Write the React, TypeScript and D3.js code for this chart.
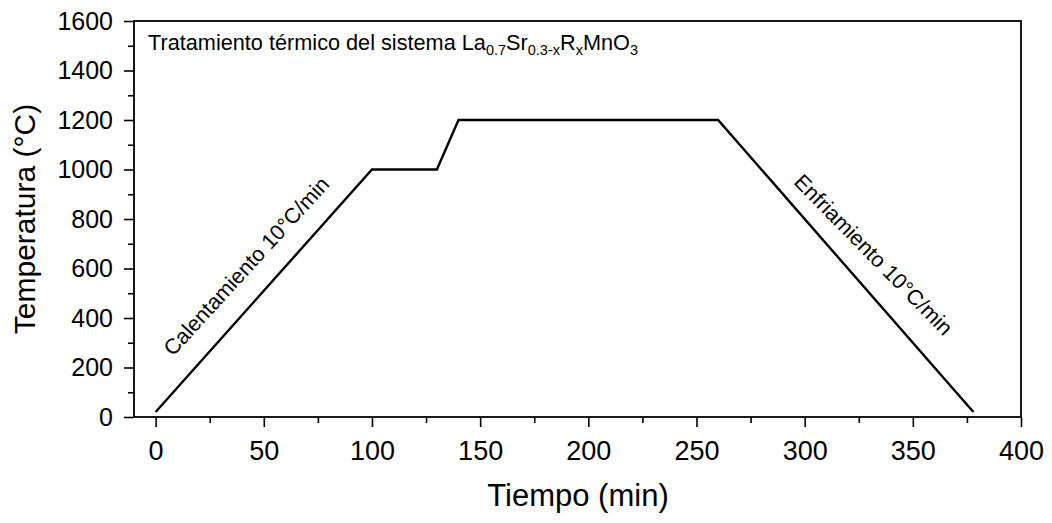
import * as React from "react";
import * as d3 from "d3";
import { useEffect, useRef } from "react";

// temperatura vs tiempo
const tiempo = [0, 100, 130, 140, 260, 378];
const temperatura = [20, 1000, 1000, 1200, 1200, 20];

const xTicks = [0, 50, 100, 150, 200, 250, 300, 350, 400];
const yTicks = [0, 200, 400, 600, 800, 1000, 1200, 1400, 1600];

const W = 1052;
const H = 523;
const FONT = "'Liberation Sans', Arial, sans-serif";

const App: React.FunctionComponent = () => {
  const svgRef = useRef<SVGSVGElement>(null);

  useEffect(() => {
    const svg = d3.select(svgRef.current);
    svg.selectAll("*").remove();

    const x = d3.scaleLinear().domain([-10, 400]).range([134, 1021]);
    const y = d3.scaleLinear().domain([0, 1600]).range([417, 21]);

    const xAxis = d3
      .axisBottom(x)
      .tickValues(xTicks)
      .tickSize(10)
      .tickPadding(14)
      .tickFormat(d3.format("d"));
    const xMinor = d3
      .axisBottom(x)
      .tickValues(d3.range(25, 400, 50))
      .tickSize(6)
      .tickFormat(() => "");
    const yAxis = d3
      .axisLeft(y)
      .tickValues(yTicks)
      .tickSize(10)
      .tickPadding(11)
      .tickFormat(d3.format("d"));
    const yMinor = d3
      .axisLeft(y)
      .tickValues(d3.range(100, 1600, 200))
      .tickSize(6)
      .tickFormat(() => "");

    const styleAxis = (g, size) => {
      g.select(".domain").remove();
      g.selectAll("line").attr("stroke", "#000").attr("stroke-width", 1.6);
      g.selectAll("text").attr("fill", "#000").style("font-family", FONT).style("font-size", size);
    };

    svg.append("g").attr("transform", "translate(0,417)").call(xMinor).call(styleAxis, "27px");
    svg.append("g").attr("transform", "translate(0,417)").call(xAxis).call(styleAxis, "27px");
    svg.append("g").attr("transform", "translate(134,0)").call(yMinor).call(styleAxis, "25px");
    svg.append("g").attr("transform", "translate(134,0)").call(yAxis).call(styleAxis, "25px");

    // marco
    svg
      .append("rect")
      .attr("x", x(-10))
      .attr("y", y(1600))
      .attr("width", x(400) - x(-10))
      .attr("height", y(0) - y(1600))
      .attr("fill", "none")
      .attr("stroke", "#000")
      .attr("stroke-width", 1.8);

    const line = d3
      .line<number>()
      .x((d) => x(d))
      .y((_, i) => y(temperatura[i]));

    svg
      .append("path")
      .datum(tiempo)
      .attr("d", line)
      .attr("fill", "none")
      .attr("stroke", "#000")
      .attr("stroke-width", 2.4)
      .attr("stroke-linejoin", "miter");

    // titulos de ejes
    svg
      .append("text")
      .attr("x", 578)
      .attr("y", 506)
      .attr("text-anchor", "middle")
      .style("font-family", FONT)
      .style("font-size", "31px")
      .text("Tiempo (min)");

    svg
      .append("text")
      .attr("transform", "translate(35,219) rotate(-90)")
      .attr("text-anchor", "middle")
      .style("font-family", FONT)
      .style("font-size", "30px")
      .text("Temperatura (°C)");

    // titulo interno con subindices
    const t = svg
      .append("text")
      .attr("x", 148)
      .attr("y", 50)
      .style("font-family", FONT)
      .style("font-size", "21.7px");
    const parts: [string, boolean][] = [
      ["Tratamiento térmico del sistema La", false],
      ["0.7", true],
      ["Sr", false],
      ["0.3-x", true],
      ["R", false],
      ["x", true],
      ["MnO", false],
      ["3", true],
    ];
    parts.forEach(([s, sub]) => {
      t.append("tspan")
        .attr("baseline-shift", sub ? "-30%" : null)
        .style("font-size", sub ? "14.5px" : null)
        .text(s);
    });

    // anotaciones de pendientes
    svg
      .append("text")
      .attr("transform", `translate(${x(8)},${y(242)}) rotate(-47.5)`)
      .style("font-family", FONT)
      .style("font-size", "21.5px")
      .text("Calentamiento 10°C/min");

    svg
      .append("text")
      .attr("transform", `translate(${x(294.5)},${y(945)}) rotate(45.5)`)
      .style("font-family", FONT)
      .style("font-size", "21.5px")
      .text("Enfriamiento 10°C/min");
  }, []);

  return (
    <svg
      ref={svgRef}
      width={W}
      height={H}
      style={{ position: "absolute", left: 0, top: 0, background: "#fff" }}
    ></svg>
  );
};

export default App;
